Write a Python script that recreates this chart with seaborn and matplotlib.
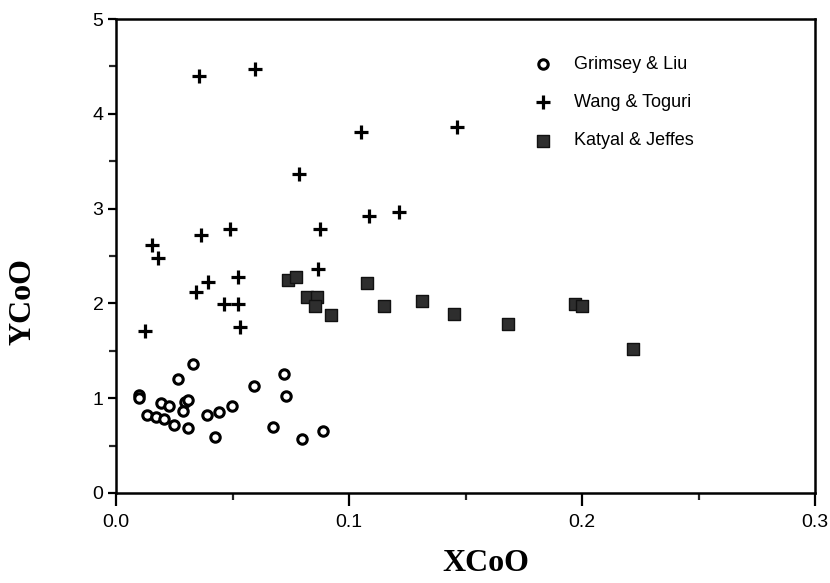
import matplotlib
matplotlib.use("Agg")
import matplotlib.pyplot as plt
from matplotlib.ticker import MultipleLocator, FixedLocator
import seaborn as sns
import pandas as pd

# Grimsey & Liu
grimsey_x = [0.0100, 0.0100, 0.0132, 0.0172, 0.0206, 0.0249, 0.0193, 0.0229,
             0.0268, 0.0332, 0.0298, 0.0310, 0.0289, 0.0308, 0.0389, 0.0443,
             0.0424, 0.0499, 0.0592, 0.0672, 0.0720, 0.0728, 0.0798, 0.0887]
grimsey_y = [1.03, 1.00, 0.82, 0.80, 0.78, 0.72, 0.95, 0.92,
             1.20, 1.36, 0.96, 0.98, 0.87, 0.69, 0.82, 0.85,
             0.59, 0.92, 1.13, 0.70, 1.26, 1.02, 0.57, 0.65]

# Wang & Toguri
wang_x = [0.0356, 0.0598, 0.1050, 0.1465, 0.0784, 0.1087, 0.1213, 0.0365,
          0.0491, 0.0877, 0.0156, 0.0179, 0.0395, 0.0342, 0.0522, 0.0867,
          0.0465, 0.0522, 0.0532, 0.0124]
wang_y = [4.40, 4.47, 3.81, 3.86, 3.37, 2.92, 2.96, 2.72,
          2.79, 2.79, 2.62, 2.48, 2.23, 2.12, 2.28, 2.36,
          1.99, 1.99, 1.75, 1.71]

# Katyal & Jeffes
katyal_x = [0.0740, 0.0773, 0.0818, 0.0861, 0.0854, 0.0921, 0.1076, 0.1149,
            0.1315, 0.1449, 0.1684, 0.1970, 0.1999, 0.2217]
katyal_y = [2.25, 2.28, 2.07, 2.07, 1.97, 1.88, 2.22, 1.97,
            2.02, 1.89, 1.78, 1.99, 1.97, 1.52]

x_ticks = [0.0, 0.1, 0.2, 0.3]
x_tick_labels = ["0.0", "0.1", "0.2", "0.3"]
y_ticks = [0, 1, 2, 3, 4, 5]
y_tick_labels = ["0", "1", "2", "3", "4", "5"]

sns.set_style("ticks")
plt.rcParams["font.family"] = ["Liberation Sans", "DejaVu Sans"]

fig = plt.figure(figsize=(8.3, 5.83), dpi=100)
ax = fig.add_axes([0.1398, 0.1544, 0.8422, 0.8130])

g_df = pd.DataFrame({"x": grimsey_x, "y": grimsey_y})
w_df = pd.DataFrame({"x": wang_x, "y": wang_y})
k_df = pd.DataFrame({"x": katyal_x, "y": katyal_y})

sns.scatterplot(data=g_df, x="x", y="y", ax=ax, marker="o", s=46,
                color="white", edgecolor="black", linewidth=2.2,
                label="Grimsey & Liu", zorder=3)
sns.scatterplot(data=w_df, x="x", y="y", ax=ax, marker="+", s=90,
                color="black", linewidth=2.3,
                label="Wang & Toguri", zorder=3)
sns.scatterplot(data=k_df, x="x", y="y", ax=ax, marker="s", s=66,
                color="#2e2e2e", edgecolor="#111111", linewidth=1.0,
                label="Katyal & Jeffes", zorder=3)

ax.set_xlim(0, 0.3)
ax.set_ylim(0, 5)
ax.xaxis.set_major_locator(FixedLocator(x_ticks))
ax.set_xticklabels(x_tick_labels)
ax.xaxis.set_minor_locator(MultipleLocator(0.05))
ax.yaxis.set_major_locator(FixedLocator(y_ticks))
ax.set_yticklabels(y_tick_labels)
ax.yaxis.set_minor_locator(MultipleLocator(0.5))

for side in ["left", "right", "top", "bottom"]:
    ax.spines[side].set_visible(True)
    ax.spines[side].set_linewidth(1.8)
    ax.spines[side].set_color("black")

ax.tick_params(axis="x", which="major", direction="out", length=9, width=1.6,
               labelsize=14, pad=6, colors="black")
ax.tick_params(axis="x", which="minor", direction="out", length=5, width=1.6)
ax.tick_params(axis="y", which="major", direction="out", length=6, width=1.6,
               labelsize=14, pad=3, colors="black")
ax.tick_params(axis="y", which="minor", direction="out", length=5, width=1.6)
ax.tick_params(top=False, right=False, which="both")

label_font = dict(family=["Liberation Serif", "DejaVu Serif"], weight="bold",
                  size=23, color="black")
ax.set_xlabel("XCoO", **label_font)
ax.set_ylabel("YCoO", **label_font)
ax.xaxis.set_label_coords(0.529, -0.118)
ax.yaxis.set_label_coords(-0.113, 0.403)

leg = ax.legend(loc="upper left", bbox_to_anchor=(0.588, 0.937), frameon=False,
                fontsize=13, handlelength=1.0, handletextpad=1.2,
                labelspacing=1.17, borderaxespad=0)
for txt in leg.get_texts():
    txt.set_color("black")

fig.savefig("out.png", dpi=100, facecolor="white")
